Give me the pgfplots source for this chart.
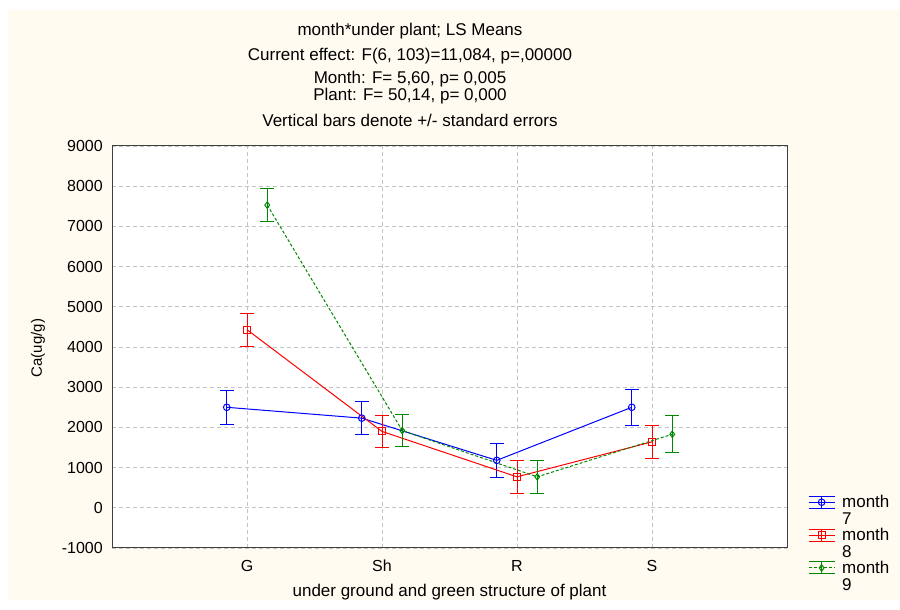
\documentclass[border=0pt]{standalone}
\usepackage{fontspec}
\setmainfont{Liberation Sans}
\usepackage{pgfplots}
\pgfplotsset{compat=1.18}
\definecolor{cream}{RGB}{255,251,240}
\definecolor{mblue}{RGB}{0,0,255}
\definecolor{mred}{RGB}{255,0,0}
\definecolor{mgreen}{RGB}{0,135,0}
\definecolor{gridgray}{RGB}{195,195,195}
\pgfplotsset{
  legm/.style={legend image code/.code={
    \draw[solid, line width=1bp, #1] (0bp,6bp)--(26bp,6bp) (0bp,-6bp)--(26bp,-6bp) (13bp,-6bp)--(13bp,6bp);
    \draw[mark repeat=2,mark phase=2,##1] plot coordinates {(0bp,0bp)(13bp,0bp)(26bp,0bp)};
  }},
  ebar/.style={error bars/.cd, error mark=-, error mark options={rotate=90, mark size=7bp, line width=1bp, draw=#1, solid}, error bar style={line width=1bp, solid, draw=#1}},
}
\pgfplotstableread{
x y e
0.85 2500 420
1.85 2230 410
2.85 1180 430
3.85 2500 450
}\mseven
\pgfplotstableread{
x y e
1 4430 410
2 1900 400
3 770 410
4 1640 405
}\meight
\pgfplotstableread{
x y e
1.15 7530 410
2.15 1920 405
3.15 770 410
4.15 1830 455
}\mnine
\newcommand{\lgd}[1]{\fontsize{17bp}{16.5bp}\selectfont\begin{tabular}[t]{@{}l@{}}month\\#1\end{tabular}}
\begin{document}
\begin{tikzpicture}[x=1bp,y=1bp]
\useasboundingbox (0,0) rectangle (900,610);
\fill[white] (0,0) rectangle (900,610);
\fill[cream] (8,10) rectangle (900,600);
\begin{axis}[
 at={(112bp,62bp)}, anchor=south west, scale only axis, width=675bp, height=402bp,
 xmin=0, xmax=5, ymin=-1000, ymax=9000,
 xtick={1,2,3,4}, xticklabels={G,Sh,R,S},
 ytick={-1000,0,...,9000},
 scaled ticks=false,
 grid=major, major grid style={gridgray, dash pattern=on 4bp off 3bp, line width=0.8bp},
 axis line style={black!75, line width=1bp},
 axis background/.style={fill=white},
 major tick length=0pt,
 /pgf/number format/assume math mode=true,
 /pgf/number format/set thousands separator={},
 tick label style={font=\fontsize{16bp}{18bp}\selectfont},
 yticklabel style={anchor=east, inner sep=0pt, xshift=-9bp},
 xticklabel style={anchor=center, inner sep=0pt, yshift=-18bp},
 xlabel={under ground and green structure of plant},
 xlabel style={at={(axis description cs:0.5,-0.109)}, anchor=center, inner sep=0pt, font=\fontsize{17bp}{19bp}\selectfont},
 ylabel={Ca(ug/g)},
 ylabel style={at={(axis description cs:-0.1096,0.4975)}, anchor=center, inner sep=0pt, font=\fontsize{15bp}{17bp}\selectfont},
 legend style={at={(axis description cs:1.031,0.134)}, anchor=north west, draw=none, fill=none, inner sep=0pt, row sep=17bp, column sep=6bp, nodes={inner sep=1bp}},
 legend cell align=left,
 error bars/y dir=both, error bars/y explicit,
]
\addplot[mblue, line width=1bp, mark=o, mark size=3.3bp, mark options={solid, fill=white, line width=1bp},
  ebar=mblue, /pgfplots/.cd, legm=mblue]
  table[x=x, y=y, y error=e] {\mseven};
\addlegendentry{\lgd{7}}
\addplot[mred, line width=1bp, mark=square, mark size=3.5bp, mark options={solid, fill=white, line width=1bp},
  ebar=mred, /pgfplots/.cd, legm=mred]
  table[x=x, y=y, y error=e] {\meight};
\addlegendentry{\lgd{8}}
\addplot[mgreen, line width=1bp, dash pattern=on 3bp off 2bp, mark=diamond, mark size=3.2bp, mark options={solid, fill=white, line width=1bp},
  ebar=mgreen, /pgfplots/.cd, legm=mgreen]
  table[x=x, y=y, y error=e] {\mnine};
\addlegendentry{\lgd{9}}
\end{axis}
\begin{scope}[every node/.style={font=\fontsize{17bp}{19bp}\selectfont, inner sep=0pt, anchor=center}]
\node at (410,579) {month*under plant; LS Means};
\node at (410,554) {Current effect: F(6, 103)=11,084, p=,00000};
\node[align=center, font=\fontsize{17bp}{15bp}\selectfont] at (410,522.5) {Month: F= 5,60, p= 0,005\\Plant: F= 50,14, p= 0,000};
\node at (410,490) {Vertical bars denote +/- standard errors};
\end{scope}
\end{tikzpicture}
\end{document}
